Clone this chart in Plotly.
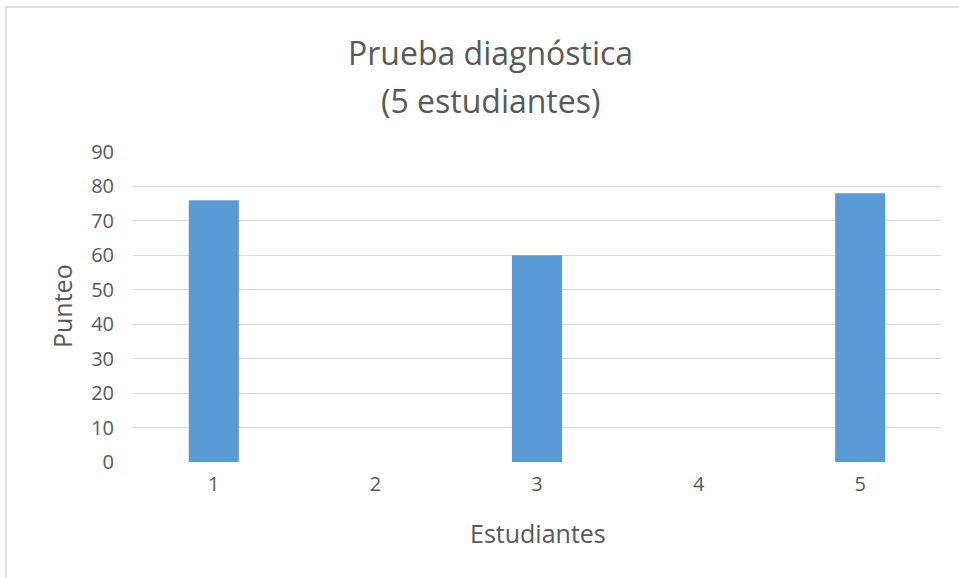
import plotly.graph_objects as go

# ---- data ----
students = ["1", "2", "3", "4", "5"]
scores = [76, None, 60, None, 78]
y_ticks = [0, 10, 20, 30, 40, 50, 60, 70, 80, 90]

title_line1 = "Prueba diagnóstica"
title_line2 = "(5 estudiantes)"
x_title = "Estudiantes"
y_title = "Punteo"

# ---- layout geometry (pixels) ----
W, H = 959, 578
L, R, T, B = 133, 18, 152, 116
PW, PH = W - L - R, H - T - B


def px_x(px):
    return (px - L) / PW


def px_y(py):
    return (H - B - py) / PH


FONT = "Open Sans"
TXT = "#595959"
GRID = "#d9d9d9"

fig = go.Figure(
    go.Bar(
        x=students,
        y=scores,
        marker=dict(color="#5B9BD5", line=dict(width=0)),
    )
)

fig.update_layout(
    width=W,
    height=H,
    margin=dict(l=L, r=R, t=T, b=B, pad=0),
    paper_bgcolor="white",
    plot_bgcolor="white",
    bargap=0.69,
    showlegend=False,
    font=dict(family=FONT, color=TXT),
    xaxis=dict(
        type="category",
        showgrid=False,
        showline=False,
        zeroline=False,
        ticks="",
        tickfont=dict(family=FONT, size=20, color=TXT),
        ticklabelstandoff=8,
    ),
    yaxis=dict(
        range=[0, 90],
        tickvals=y_ticks,
        showgrid=True,
        gridcolor=GRID,
        gridwidth=1.3,
        zeroline=False,
        showline=False,
        ticks="",
        tickfont=dict(family=FONT, size=20, color=TXT),
        ticklabelstandoff=18,
    ),
    annotations=[
        dict(text=title_line1, x=px_x(490), y=px_y(52), xref="paper", yref="paper",
             xanchor="center", yanchor="middle", showarrow=False,
             font=dict(family=FONT, size=32, color=TXT)),
        dict(text=title_line2, x=px_x(490), y=px_y(100), xref="paper", yref="paper",
             xanchor="center", yanchor="middle", showarrow=False,
             font=dict(family=FONT, size=32, color=TXT)),
        dict(text=x_title, x=px_x(538), y=px_y(533), xref="paper", yref="paper",
             xanchor="center", yanchor="middle", showarrow=False,
             font=dict(family=FONT, size=25, color=TXT)),
        dict(text=y_title, x=px_x(62), y=px_y(306), xref="paper", yref="paper",
             xanchor="center", yanchor="middle", showarrow=False, textangle=-90,
             font=dict(family=FONT, size=25, color=TXT)),
    ],
    shapes=[
        dict(type="rect", xref="paper", yref="paper",
             x0=px_x(6), y0=px_y(H + 50), x1=px_x(W + 50), y1=px_y(7),
             line=dict(color=GRID, width=1.5), fillcolor="rgba(0,0,0,0)", layer="below"),
    ],
)

fig.write_html(
    "out.html",
    config={"displayModeBar": False},
    post_script="document.body.style.margin='0';document.body.style.overflow='hidden';",
)
